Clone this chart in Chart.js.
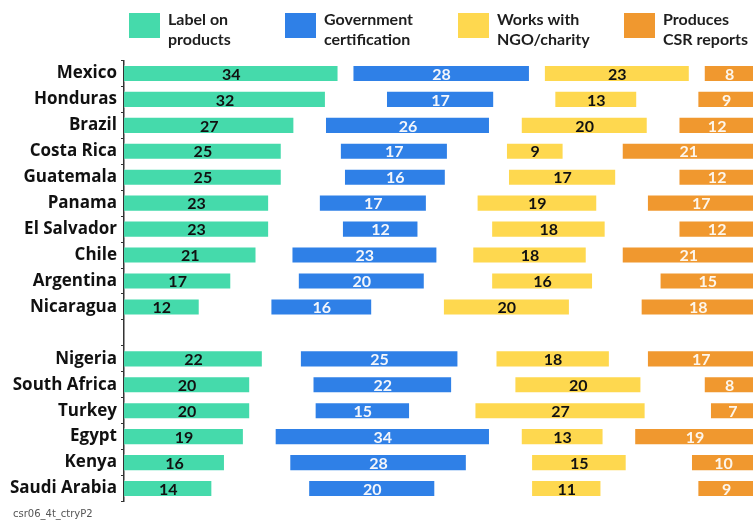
<!DOCTYPE html>
<html>
<head>
<meta charset="utf-8">
<script src="https://cdn.jsdelivr.net/npm/chart.js@4"></script>
<style>
html,body{margin:0;padding:0;background:#fff;overflow:hidden;}
#wrap{position:relative;width:755px;height:526px;}
</style>
</head>
<body>
<div id="wrap"><canvas id="c"></canvas></div>
<script>
const countries = ["Mexico","Honduras","Brazil","Costa Rica","Guatemala","Panama","El Salvador","Chile","Argentina","Nicaragua","","Nigeria","South Africa","Turkey","Egypt","Kenya","Saudi Arabia"];
const labelOnProducts = [34,32,27,25,25,23,23,21,17,12,null,22,20,20,19,16,14];
const govCertification = [28,17,26,17,16,17,12,23,20,16,null,25,22,15,34,28,20];
const worksWithNGO = [23,13,20,9,17,19,18,18,16,20,null,18,20,27,13,15,11];
const producesCSR = [8,9,12,21,12,17,12,21,15,18,null,17,8,7,19,10,9];
const seriesNames = [["Label on","products"],["Government","certification"],["Works with","NGO/charity"],["Produces","CSR reports"]];
const colors = ["#45daab","#2f80e7","#fed84f","#f0982f"];
const textColors = ["#111","#f4f6fb","#111","#fdf6ec"];
const axisTotal = 100;
const footerText = "csr06_4t_ctryP2";

// equal spacing between the four segments in each row
const gaps = countries.map((c,i)=>{
  if (labelOnProducts[i]==null) return null;
  const s = labelOnProducts[i]+govCertification[i]+worksWithNGO[i]+producesCSR[i];
  return (axisTotal - s)/3;
});

const seriesData = [labelOnProducts, govCertification, worksWithNGO, producesCSR];
const datasets = [];
seriesData.forEach((d,k)=>{
  if (k>0) datasets.push({label:"gap"+k, data:gaps, backgroundColor:"rgba(0,0,0,0)", isGap:true, barPercentage:0.66, categoryPercentage:1});
  datasets.push({label:seriesNames[k].join(" "), data:d, backgroundColor:colors[k], borderColor:"rgba(255,255,255,0.35)", borderWidth:1, barPercentage:0.66, categoryPercentage:1, seriesIndex:k});
});

const FONT = "Lato, 'Open Sans', sans-serif";

const valueLabels = {
  id:"valueLabels",
  afterDatasetsDraw(chart){
    const ctx = chart.ctx;
    ctx.save();
    ctx.font = "bold 16px " + FONT;
    ctx.textAlign = "center";
    ctx.textBaseline = "middle";
    chart.data.datasets.forEach((ds,di)=>{
      if (ds.isGap) return;
      const meta = chart.getDatasetMeta(di);
      meta.data.forEach((bar,i)=>{
        const v = ds.data[i];
        if (v==null) return;
        const cx = (bar.x + bar.base)/2;
        ctx.fillStyle = textColors[ds.seriesIndex];
        ctx.fillText(String(v), cx, bar.y+1);
      });
    });
    ctx.restore();
  }
};

const customLegend = {
  id:"customLegend",
  afterDraw(chart){
    const ctx = chart.ctx;
    const swX = [129,285,458,624];
    ctx.save();
    seriesNames.forEach((lines,k)=>{
      ctx.fillStyle = colors[k];
      ctx.fillRect(swX[k],13,31,25);
      ctx.fillStyle = "#1e1e1e";
      ctx.font = "bold 16px " + FONT;
      ctx.textAlign = "left";
      ctx.textBaseline = "alphabetic";
      ctx.fillText(lines[0], swX[k]+39, 25);
      ctx.fillText(lines[1], swX[k]+39, 45);
    });
    ctx.fillStyle = "#555";
    ctx.font = "10px 'DejaVu Sans', sans-serif";
    ctx.fillText(footerText, 13, 517);
    ctx.restore();
  }
};

new Chart(document.getElementById("c"), {
  type:"bar",
  data:{labels:countries, datasets:datasets},
  options:{
    indexAxis:"y",
    responsive:true,
    maintainAspectRatio:false,
    animation:false,
    layout:{padding:{top:60.5, bottom:24.5, left:0, right:0}},
    plugins:{legend:{display:false}, tooltip:{enabled:false}},
    scales:{
      x:{stacked:true, min:0, max:axisTotal, display:false},
      y:{
        stacked:true,
        afterFit(scale){ scale.width = 124; },
        grid:{drawOnChartArea:false, drawTicks:true, tickLength:3, color:"#333", offset:true},
        border:{display:true, color:"#333", width:1.5},
        ticks:{color:"#111", padding:4, font:{family:"'Open Sans', Lato, sans-serif", weight:"bold", size:17}}
      }
    }
  },
  plugins:[valueLabels, customLegend]
});
</script>
</body>
</html>
